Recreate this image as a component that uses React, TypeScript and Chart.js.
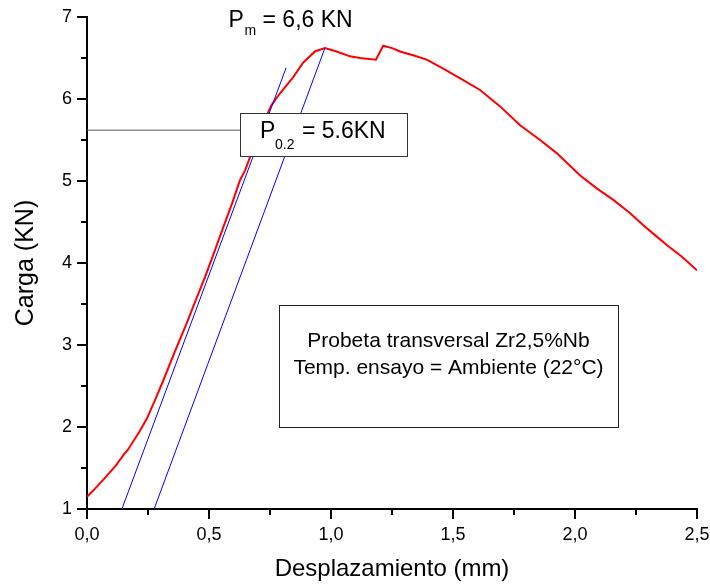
import React, { useEffect, useRef } from 'react';
import { Chart, registerables } from 'chart.js';

Chart.register(...registerables);

// Load–displacement curve (red)
const curveX = [0, 0.04, 0.08, 0.118, 0.152, 0.167, 0.214, 0.245, 0.279, 0.313, 0.36, 0.408, 0.445, 0.484, 0.52, 0.559, 0.595, 0.627, 0.648, 0.70, 0.755, 0.791, 0.846, 0.885, 0.934, 0.975, 1.023, 1.078, 1.119, 1.184, 1.214, 1.25, 1.283, 1.34, 1.392, 1.46, 1.542, 1.611, 1.693, 1.775, 1.857, 1.925, 2.02, 2.089, 2.157, 2.225, 2.28, 2.328, 2.376, 2.437, 2.5];
const curveY = [1.15, 1.27, 1.40, 1.53, 1.67, 1.72, 1.94, 2.10, 2.33, 2.57, 2.92, 3.26, 3.54, 3.83, 4.12, 4.44, 4.73, 5.01, 5.13, 5.55, 5.92, 6.07, 6.27, 6.44, 6.58, 6.62, 6.58, 6.52, 6.50, 6.48, 6.65, 6.62, 6.58, 6.53, 6.48, 6.37, 6.23, 6.11, 5.91, 5.68, 5.50, 5.34, 5.07, 4.91, 4.77, 4.61, 4.46, 4.34, 4.22, 4.08, 3.91];

// Offset (blue) lines
const lineAX = [0.143, 0.816];
const lineAY = [1, 6.38];
const lineBX = [0.275, 0.975];
const lineBY = [1, 6.62];

// P0.2 horizontal marker
const p02X = [0, 0.627];
const p02Y = [5.62, 5.62];

// Axis ticks
const xMajor = [0, 0.5, 1.0, 1.5, 2.0, 2.5];
const xMinor = [0.25, 0.75, 1.25, 1.75, 2.25];
const yMajor = [1, 2, 3, 4, 5, 6, 7];
const yMinor = [1.5, 2.5, 3.5, 4.5, 5.5, 6.5];

// Texts
const pmMain = 'P';
const pmSub = 'm';
const pmRest = '= 6,6 KN';
const p02Main = 'P';
const p02Sub = '0.2';
const p02Rest = '= 5.6KN';
const infoLines = ['Probeta transversal Zr2,5%Nb', 'Temp. ensayo = Ambiente (22°C)'];

const FONT = "'Liberation Sans', Arial, Helvetica, sans-serif";

const toPts = (xs: number[], ys: number[]) => xs.map((x, i) => ({ x, y: ys[i] }));

const decorPlugin = {
  id: 'decor',
  afterDatasetsDraw(chart: any) {
    const { ctx, scales } = chart;
    const xs = scales.x;
    const ys = scales.y;
    const area = chart.chartArea;
    ctx.save();
    // minor ticks
    ctx.strokeStyle = '#000';
    ctx.lineWidth = 2;
    xMinor.forEach((v) => {
      const px = Math.round(xs.getPixelForValue(v));
      ctx.beginPath();
      ctx.moveTo(px, area.bottom);
      ctx.lineTo(px, area.bottom + 6);
      ctx.stroke();
    });
    yMinor.forEach((v) => {
      const py = Math.round(ys.getPixelForValue(v));
      ctx.beginPath();
      ctx.moveTo(area.left, py);
      ctx.lineTo(area.left - 6, py);
      ctx.stroke();
    });

    // P0.2 box
    const bx1 = xs.getPixelForValue(0.627);
    const bx2 = xs.getPixelForValue(1.311);
    const by1 = ys.getPixelForValue(5.829);
    const by2 = ys.getPixelForValue(5.305);
    ctx.fillStyle = '#fff';
    ctx.fillRect(bx1, by1, bx2 - bx1, by2 - by1);
    ctx.strokeStyle = '#333';
    ctx.lineWidth = 1;
    ctx.strokeRect(Math.round(bx1) + 0.5, Math.round(by1) + 0.5, Math.round(bx2 - bx1), Math.round(by2 - by1));
    ctx.fillStyle = '#000';
    ctx.textBaseline = 'alphabetic';
    ctx.textAlign = 'left';
    ctx.font = `23px ${FONT}`;
    ctx.fillText(p02Main, bx1 + 20, by1 + 25);
    ctx.font = `14px ${FONT}`;
    ctx.fillText(p02Sub, bx1 + 35, by1 + 36);
    ctx.font = `23px ${FONT}`;
    ctx.fillText(p02Rest, bx1 + 62, by1 + 25);

    // Pm label
    const px0 = xs.getPixelForValue(0.58);
    const py0 = ys.getPixelForValue(6.878);
    ctx.font = `23px ${FONT}`;
    ctx.fillText(pmMain, px0, py0);
    ctx.font = `14px ${FONT}`;
    ctx.fillText(pmSub, px0 + 16, py0 + 8);
    ctx.font = `23px ${FONT}`;
    ctx.fillText(pmRest, px0 + 34, py0);

    // info box
    const ix1 = xs.getPixelForValue(0.787);
    const ix2 = xs.getPixelForValue(2.176);
    const iy1 = ys.getPixelForValue(3.488);
    const iy2 = ys.getPixelForValue(2.0);
    ctx.strokeStyle = '#222';
    ctx.lineWidth = 1;
    ctx.strokeRect(Math.round(ix1) + 0.5, Math.round(iy1) + 0.5, Math.round(ix2 - ix1), Math.round(iy2 - iy1));
    ctx.font = `21px ${FONT}`;
    ctx.textAlign = 'center';
    ctx.textBaseline = 'middle';
    const cx = (ix1 + ix2) / 2;
    ctx.fillText(infoLines[0], cx, iy1 + 36);
    ctx.fillText(infoLines[1], cx, iy1 + 63);
    ctx.restore();
  },
};

export default function App() {
  const ref = useRef<HTMLCanvasElement | null>(null);
  useEffect(() => {
    if (!ref.current) return;
    const chart = new Chart(ref.current, {
      type: 'line',
      data: {
        datasets: [
          { data: toPts(p02X, p02Y), borderColor: '#555', borderWidth: 1, pointRadius: 0, tension: 0 },
          { data: toPts(lineAX, lineAY), borderColor: '#0000ff', borderWidth: 1, pointRadius: 0, tension: 0 },
          { data: toPts(lineBX, lineBY), borderColor: '#0000ff', borderWidth: 1, pointRadius: 0, tension: 0 },
          { data: toPts(curveX, curveY), borderColor: '#ff0000', borderWidth: 2, pointRadius: 0, tension: 0 },
        ],
      },
      options: {
        responsive: false,
        animation: false,
        events: [],
        layout: { padding: { left: 0, right: 13, top: 17, bottom: 0 } },
        plugins: { legend: { display: false }, tooltip: { enabled: false } },
        scales: {
          x: {
            type: 'linear',
            min: 0,
            max: 2.5,
            afterFit: (s: any) => { s.height = 75; s.paddingRight = 0; s.paddingLeft = 0; },
            afterBuildTicks: (s: any) => { s.ticks = xMajor.map((v) => ({ value: v })); },
            ticks: {
              color: '#000',
              font: { family: FONT, size: 18 },
              padding: 5,
              maxRotation: 0,
              callback: (v: any) => Number(v).toFixed(1).replace('.', ','),
            },
            grid: { drawOnChartArea: false, drawTicks: true, tickLength: 10, color: '#000', lineWidth: 2 },
            border: { display: true, color: '#000', width: 2 },
            title: { display: true, text: 'Desplazamiento (mm)', color: '#000', font: { family: FONT, size: 24 }, padding: { top: 0, bottom: 0 } },
          },
          y: {
            type: 'linear',
            min: 1,
            max: 7,
            afterFit: (s: any) => { s.width = 87; },
            afterBuildTicks: (s: any) => { s.ticks = yMajor.map((v) => ({ value: v })); },
            ticks: {
              color: '#000',
              font: { family: FONT, size: 18 },
              padding: 5,
              callback: (v: any) => String(v),
            },
            grid: { drawOnChartArea: false, drawTicks: true, tickLength: 10, color: '#000', lineWidth: 2 },
            border: { display: true, color: '#000', width: 2 },
            title: { display: true, text: 'Carga (KN)', color: '#000', font: { family: FONT, size: 25 }, padding: { top: 11, bottom: 0 } },
          },
        },
      },
      plugins: [decorPlugin],
    });
    return () => chart.destroy();
  }, []);
  return (
    <div style={{ position: 'fixed', left: 0, top: 0, width: 710, height: 584, background: '#fff' }}>
      <canvas ref={ref} width={710} height={584} />
    </div>
  );
}
